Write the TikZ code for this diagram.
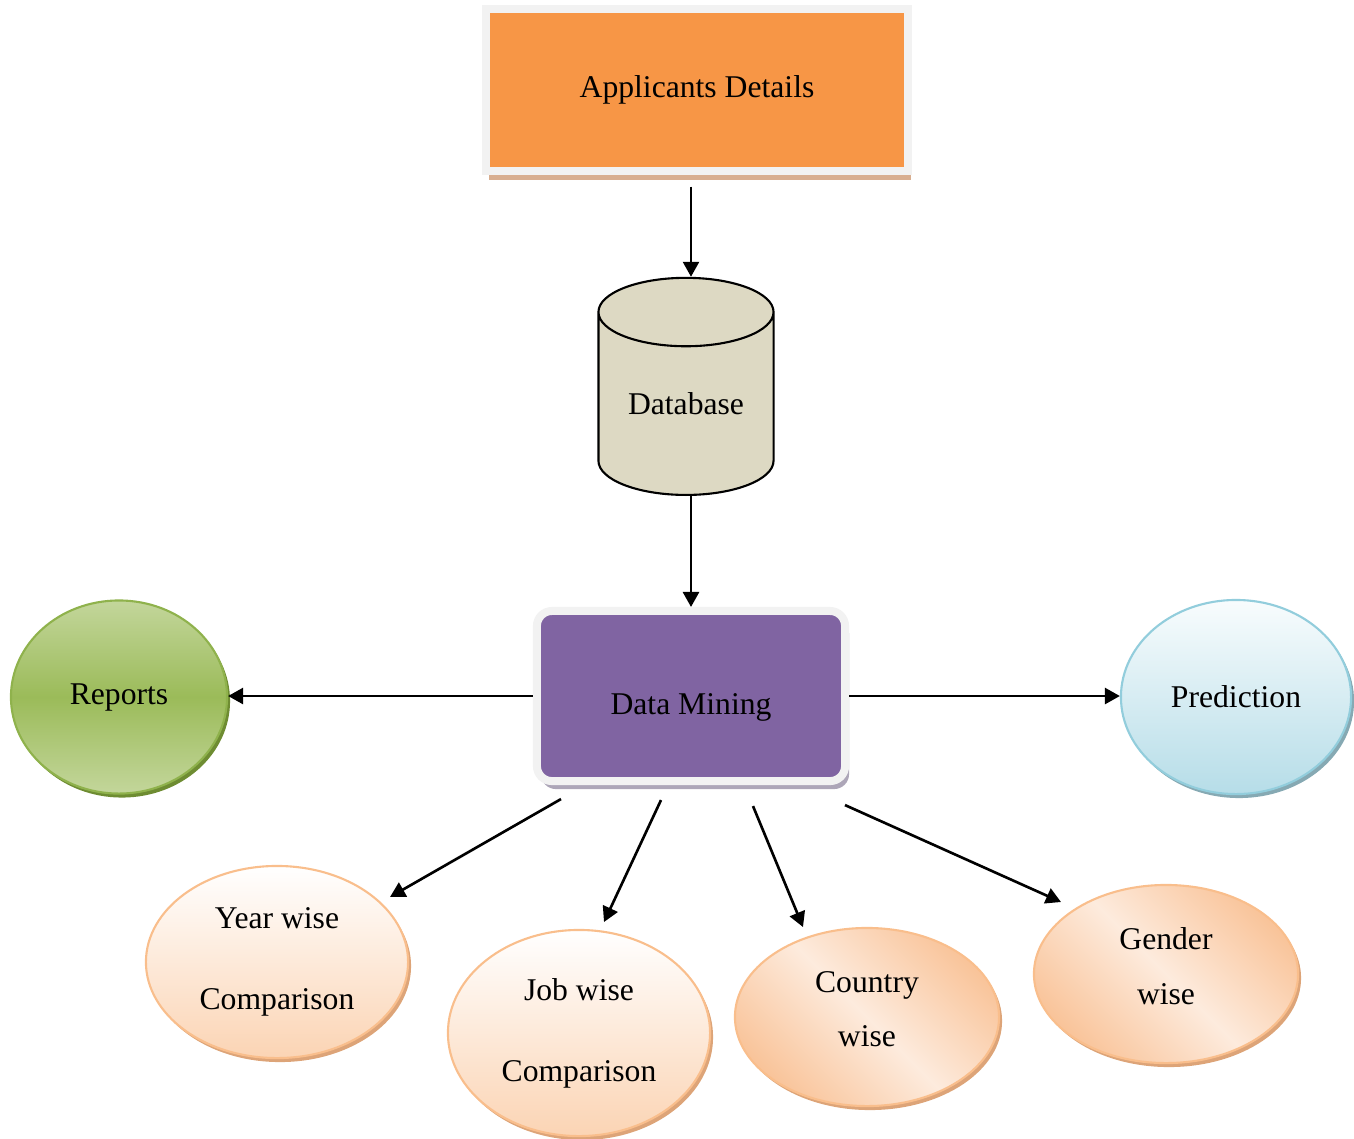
\documentclass[tikz,border=0pt]{standalone}
\usepackage{fontspec}
\setmainfont{Liberation Serif}
\usetikzlibrary{arrows.meta,shapes.geometric,shadows}

\definecolor{apfill}{HTML}{F79646}
\definecolor{apshadow}{HTML}{D8AE90}
\definecolor{frame}{HTML}{F2F2F2}
\definecolor{dbfill}{HTML}{DDD9C3}
\definecolor{dmfill}{HTML}{8064A2}
\definecolor{dmshadow}{HTML}{ADA6B8}
\definecolor{greenlight}{HTML}{C3D69B}
\definecolor{greendark}{HTML}{9BBB59}
\definecolor{greenline}{HTML}{8FB24C}
\definecolor{greenshadow}{HTML}{6E8C32}
\definecolor{bluetop}{HTML}{F8FCFD}
\definecolor{bluebot}{HTML}{B6DDE8}
\definecolor{blueline}{HTML}{92CDDC}
\definecolor{blueshadow}{HTML}{86A9B3}
\definecolor{peachbot}{HTML}{FBD4B4}
\definecolor{peachdark}{HTML}{F9C49A}
\definecolor{peachlight}{HTML}{FDEBDD}
\definecolor{peachline}{HTML}{F9BE8C}
\definecolor{peachshadow}{HTML}{DDA478}

\begin{document}
\begin{tikzpicture}[x=0.01cm,y=-0.01cm,
    font=\fontsize{9}{11}\selectfont,
    arr/.style={line width=0.75pt,-{Triangle[length=0.15cm,width=0.16cm]}},
    framebox/.style={rectangle,line width=0.08cm,draw=frame,inner sep=0pt},
    bubble/.style={ellipse,line width=0.6pt,inner sep=0pt,align=center},
    peach/.style={bubble,draw=peachline,top color=white,bottom color=peachbot,
      drop shadow={shadow xshift=0.03cm,shadow yshift=-0.04cm,fill=peachshadow,opacity=1}},
    peachdiag/.style={bubble,draw=peachline,top color=peachdark,bottom color=peachdark,
      middle color=peachlight,shading angle=-45,text depth=0.16cm,
      drop shadow={shadow xshift=0.03cm,shadow yshift=-0.04cm,fill=peachshadow,opacity=1}}]
  \useasboundingbox (0,0) rectangle (1354,1138);

  % boxes
  \node[framebox,fill=apfill,minimum width=4.22cm,minimum height=1.61cm,
    drop shadow={shadow xshift=0.03cm,shadow yshift=-0.09cm,fill=apshadow,opacity=1}]
    (app) at (697,90) {Applicants Details};
  \node[cylinder,shape border rotate=90,aspect=0.59,draw,line width=0.6pt,fill=dbfill,
    minimum width=1.75cm,minimum height=2.17cm,inner sep=0pt]
    (db) at (686,404) {Database};
  \node[framebox,fill=dmfill,rounded corners=0.15cm,minimum width=3.08cm,minimum height=1.70cm,
    text height=0.44cm,
    drop shadow={shadow xshift=0.04cm,shadow yshift=-0.08cm,fill=dmshadow,opacity=1}]
    (dm) at (691,696) {Data Mining};

  % side bubbles
  \node[bubble,draw=greenline,top color=greenlight,bottom color=greenlight,middle color=greendark,
    minimum width=2.16cm,minimum height=1.93cm,
    drop shadow={shadow xshift=0.03cm,shadow yshift=-0.04cm,fill=greenshadow,opacity=1}]
    (rep) at (119,697) {Reports};
  \node[bubble,draw=blueline,top color=bluetop,bottom color=bluebot,
    minimum width=2.30cm,minimum height=1.94cm,
    drop shadow={shadow xshift=0.03cm,shadow yshift=-0.04cm,fill=blueshadow,opacity=1}]
    (pred) at (1236,697) {Prediction};

  % bottom bubbles
  \node[peach,minimum width=2.62cm,minimum height=1.92cm] (year) at (277,962)
    {Year wise\\[12pt]Comparison};
  \node[peach,minimum width=2.62cm,minimum height=2.06cm] (job) at (579,1033)
    {Job wise\\[12pt]Comparison};
  \node[peachdiag,minimum width=2.64cm,minimum height=1.78cm] (country) at (867,1017)
    {Country\\[4.6pt]wise};
  \node[peachdiag,minimum width=2.64cm,minimum height=1.78cm] (gender) at (1166,974)
    {Gender\\[4.6pt]wise};

  % connectors
  \draw[arr,shorten <=0.12cm] (dm.north |- app.south) -- (dm.north |- db.north);
  \draw[arr] (dm.north |- db.south) -- (dm.north);
  \draw[arr] (dm.west) -- (dm.west -| rep.east);
  \draw[arr] (dm.east) -- (dm.east -| pred.west);
  \draw[arr] ([shift={(-130,14)}]dm.south) -- ([shift={(113,-65)}]year.center);
  \draw[arr] ([shift={(-30,15)}]dm.south) -- ([shift={(25,-111)}]job.center);
  \draw[arr] ([shift={(62,21)}]dm.south) -- ([shift={(-64,-90)}]country.center);
  \draw[arr] ([shift={(154,20)}]dm.south) -- ([shift={(-105,-72)}]gender.center);
\end{tikzpicture}
\end{document}
